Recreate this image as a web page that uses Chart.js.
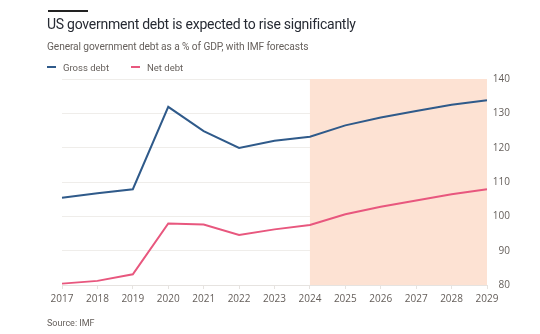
<!DOCTYPE html>
<html>
<head>
<meta charset="utf-8">
<script src="https://cdn.jsdelivr.net/npm/chart.js@4"></script>
<style>
  body { margin: 0; background: #fff; font-family: Roboto, sans-serif; }
  #wrap { position: relative; width: 540px; height: 334px; overflow: hidden; }
  #bar { position: absolute; left: 48px; top: 10px; width: 40px; height: 2px; background: #222; }
  #title { position: absolute; left: 47px; top: 16px; font-size: 14px; letter-spacing: -0.25px; color: #262a33; white-space: nowrap; }
  #sub { position: absolute; left: 47px; top: 41px; font-size: 10.2px; letter-spacing: -0.1px; color: #66605c; white-space: nowrap; }
  #legend { position: absolute; left: 47px; top: 62px; font-size: 9.5px; color: #66605c; white-space: nowrap; }
  #legend span.k { display: inline-block; width: 9px; height: 2px; vertical-align: middle; margin-right: 7px; position: relative; top: -1px; }
  #legend span.i { margin-right: 22px; }
  #source { position: absolute; left: 47px; top: 318px; font-size: 9px; color: #66605c; }
  #c { position: absolute; left: 0; top: 0; }
</style>
</head>
<body>
<div id="wrap">
  <canvas id="c" width="540" height="334"></canvas>
  <div id="bar"></div>
  <div id="title">US government debt is expected to rise significantly</div>
  <div id="sub">General government debt as a % of GDP, with IMF forecasts</div>
  <div id="legend"><span class="i"><span class="k" style="background:#2f5a8a"></span>Gross debt</span><span class="i"><span class="k" style="background:#e8577e"></span>Net debt</span></div>
  <div id="source">Source: IMF</div>
</div>
<script>
const years = ["2017", "2018", "2019", "2020", "2021", "2022", "2023", "2024", "2025", "2026", "2027", "2028", "2029"];
const grossDebt = [105.4, 106.7, 107.9, 131.9, 124.8, 119.9, 122.0, 123.2, 126.5, 128.8, 130.7, 132.5, 133.8];
const netDebt = [80.4, 81.2, 83.1, 97.9, 97.6, 94.6, 96.2, 97.5, 100.6, 102.8, 104.6, 106.4, 107.9];
const yTicks = [80, 90, 100, 110, 120, 130, 140];
const forecastFrom = "2024";
const forecastTo = "2029";

// shaded forecast period
const forecastShade = {
  id: "forecastShade",
  beforeDatasetsDraw(chart) {
    const { ctx, chartArea, scales } = chart;
    const x0 = scales.x.getPixelForValue(years.indexOf(forecastFrom));
    const x1 = scales.x.getPixelForValue(years.indexOf(forecastTo));
    ctx.save();
    ctx.fillStyle = "#fde2d3";
    ctx.fillRect(x0, chartArea.top, x1 - x0, chartArea.bottom - chartArea.top);
    ctx.restore();
  }
};

const config = {
  type: "line",
  data: {
    labels: years,
    datasets: [
      { label: "Gross debt", data: grossDebt, borderColor: "#2f5a8a", borderWidth: 2, pointRadius: 0, tension: 0 },
      { label: "Net debt", data: netDebt, borderColor: "#e8577e", borderWidth: 2, pointRadius: 0, tension: 0 }
    ]
  },
  options: {
    responsive: false,
    animation: false,
    events: [],
    layout: { padding: { left: 62, right: 30, top: 79, bottom: 19 } },
    plugins: { legend: { display: false }, tooltip: { enabled: false } },
    scales: {
      x: {
        offset: false,
        border: { display: true, color: "#e6e3e0" },
        grid: { drawOnChartArea: false, tickLength: 4, color: "#e6e3e0" },
        ticks: { padding: 4, maxRotation: 0, autoSkip: false, color: "#66605c", font: { family: "Open Sans", size: 10 } },
        afterFit(scale) { scale.height = 30; }
      },
      y: {
        position: "right",
        min: 80,
        max: 140,
        border: { display: false },
        grid: { color: "#efedea", drawTicks: false },
        afterBuildTicks(scale) { scale.ticks = yTicks.map(v => ({ value: v })); },
        ticks: { crossAlign: "far", padding: 0, color: "#66605c", font: { family: "Open Sans", size: 10 } },
        afterFit(scale) { scale.width = 23; }
      }
    }
  },
  plugins: [forecastShade]
};

const myChart = new Chart(document.getElementById("c"), config);
</script>
</body>
</html>
